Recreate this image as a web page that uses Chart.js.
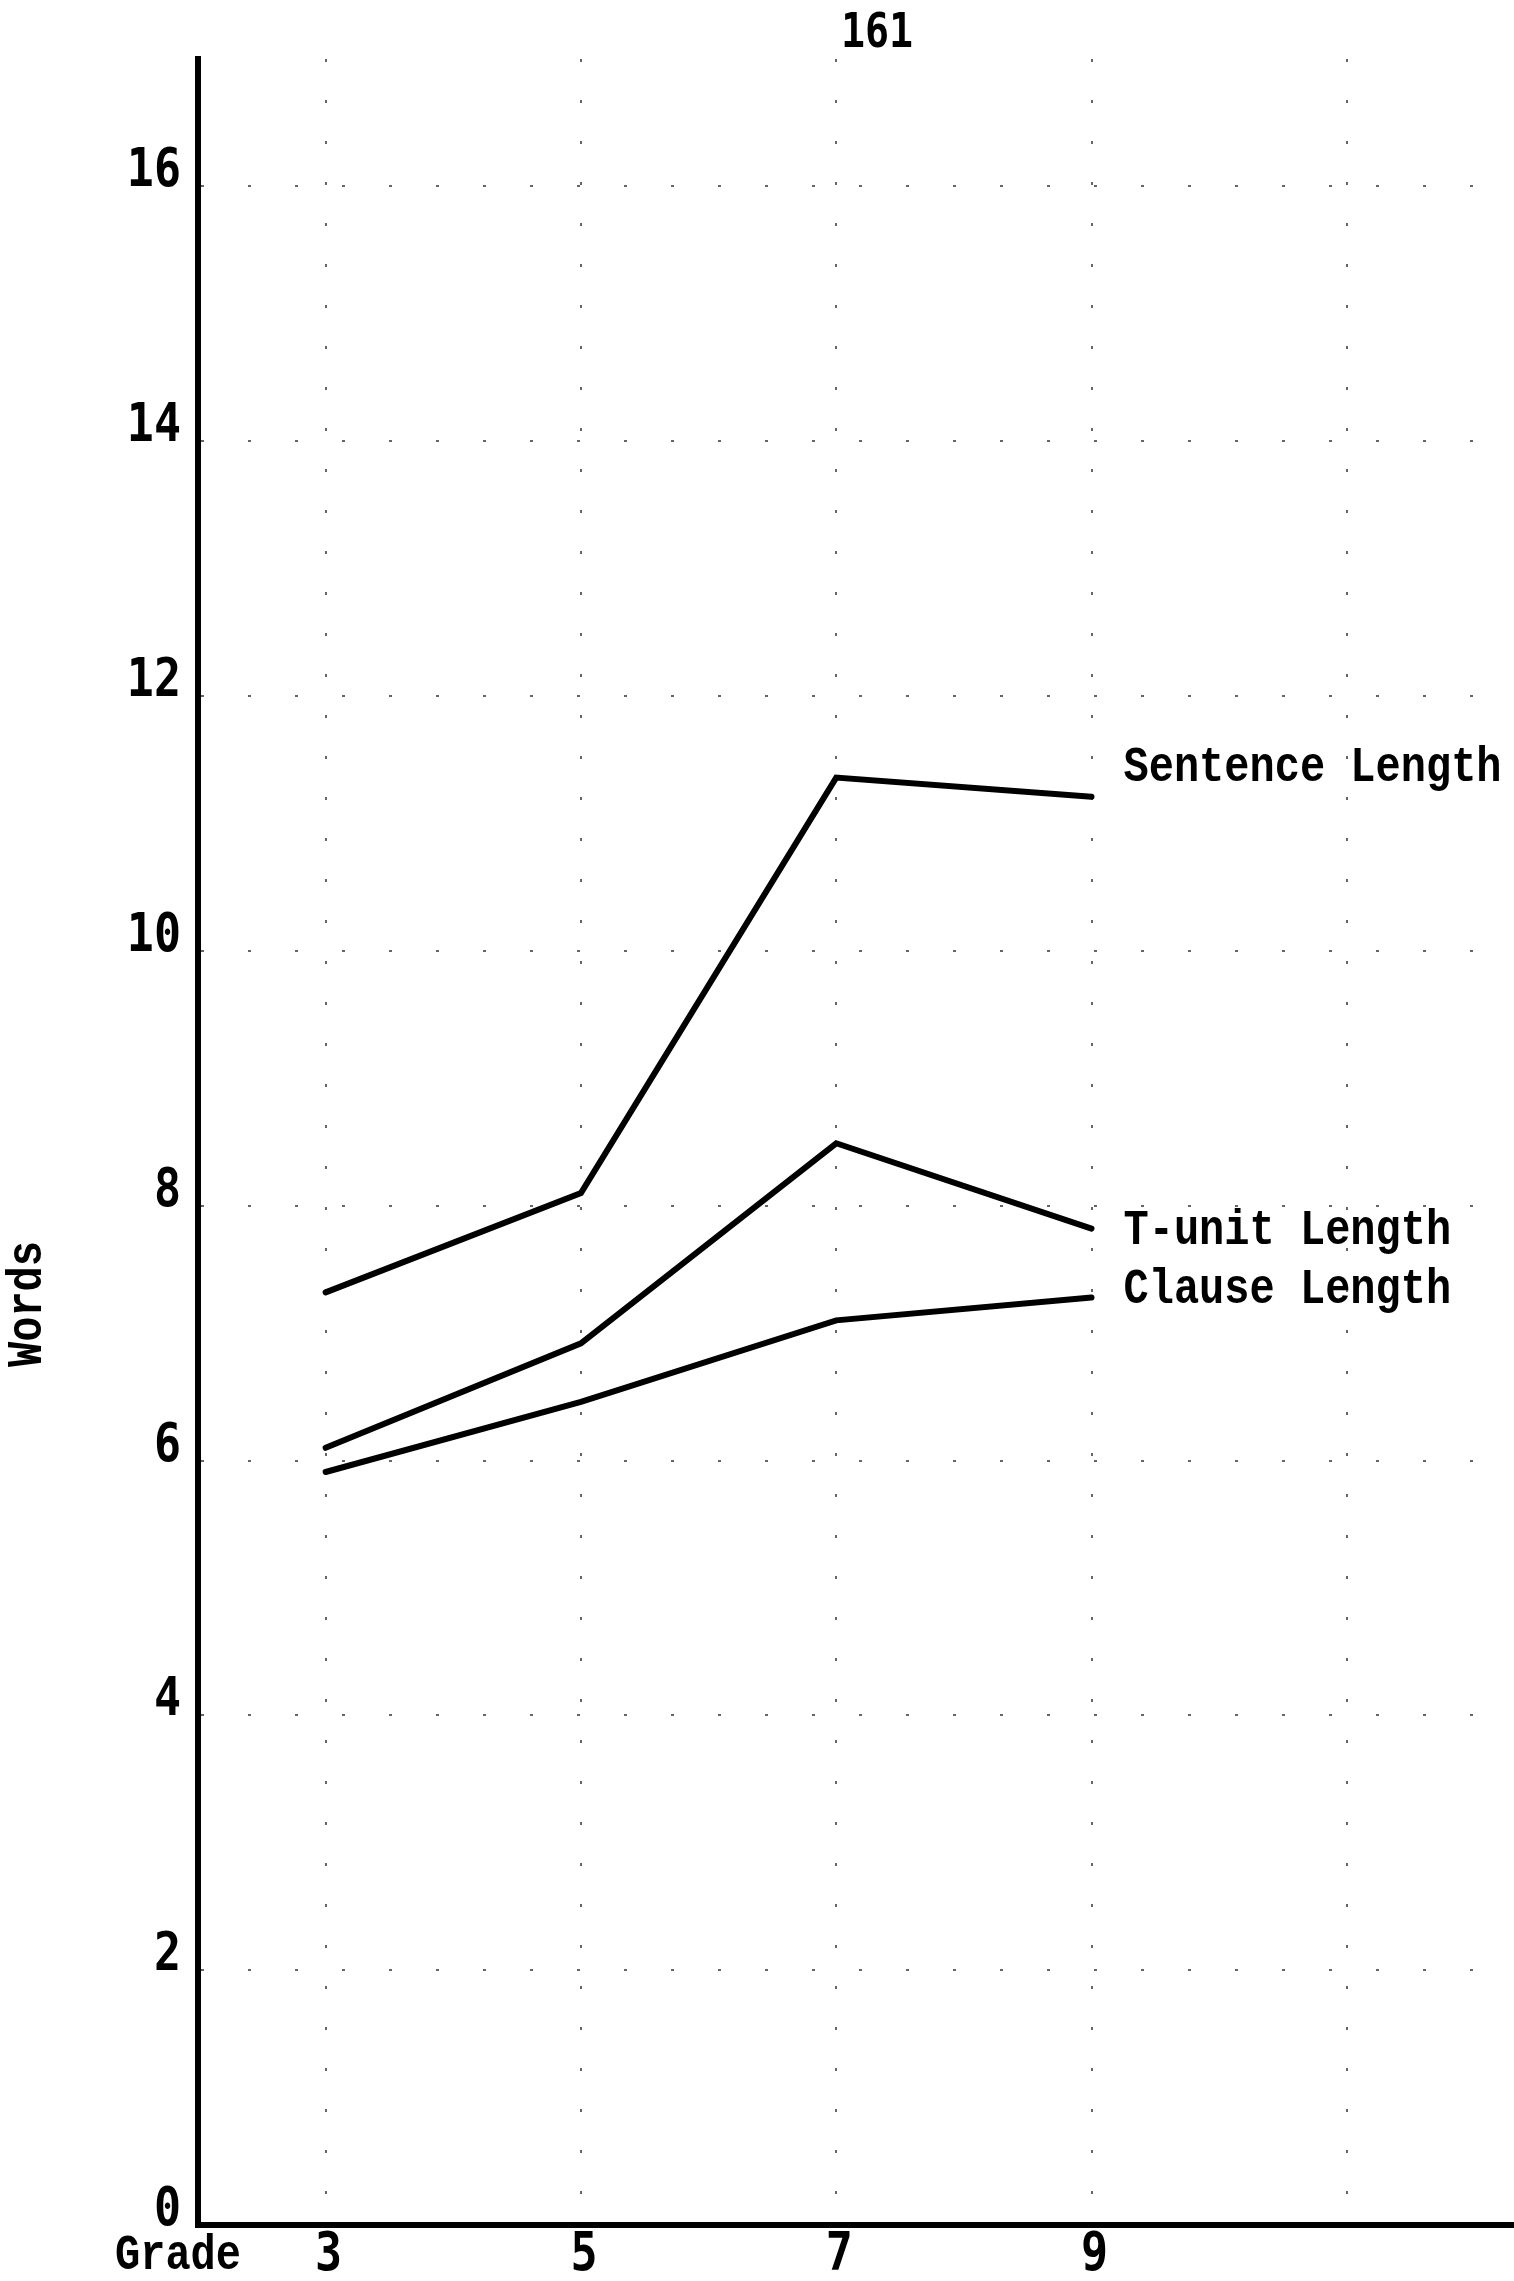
<!DOCTYPE html>
<html>
<head>
<meta charset="utf-8">
<script src="https://cdn.jsdelivr.net/npm/chart.js@4.4.1/dist/chart.umd.min.js"></script>
<style>
  html, body { margin: 0; padding: 0; background: #fff; }
  canvas { display: block; }
</style>
</head>
<body>
<canvas id="wordsChart" width="1514" height="2281"></canvas>
<script>
// values (words per unit, by grade)
const grades = [3, 5, 7, 9];
const sentenceLength = [7.32, 8.1, 11.36, 11.21];
const tunitLength = [6.1, 6.92, 8.49, 7.82];
const clauseLength = [5.91, 6.46, 7.1, 7.28];
const seriesNames = ['Sentence Length', 'T-unit Length', 'Clause Length'];

const wordTicks = [0, 2, 4, 6, 8, 10, 12, 14, 16];
const gradeTicks = [3, 5, 7, 9];
const gridGrades = [3, 5, 7, 9, 11];

const typeFont = 'bold 42px "Liberation Mono", "Courier New", Courier, "Nimbus Mono PS", "FreeMono", monospace';
const digitFont = 'bold 45px "DejaVu Sans Mono", "Liberation Mono", monospace';

function toPoints(values) {
    return grades.map((g, i) => ({ x: g, y: values[i] }));
}

// draw text, optionally stretched vertically / rotated (typewriter look)
function drawText(ctx, text, x, y, font, align, sy, rot) {
    ctx.save();
    ctx.translate(x, y);
    if (rot) ctx.rotate(rot);
    ctx.scale(1, sy || 1);
    ctx.font = font;
    ctx.fillStyle = '#000';
    ctx.textAlign = align;
    ctx.textBaseline = 'middle';
    ctx.fillText(text, 0, 0);
    ctx.restore();
}

const labelPlugin = {
    id: 'typedLabels',
    afterDraw(chart) {
        const ctx = chart.ctx;
        const xs = chart.scales.x;
        const ys = chart.scales.y;

        // y tick labels (typed a little above the rule)
        wordTicks.forEach(v => {
            drawText(ctx, String(v), 181, ys.getPixelForValue(v) - 14, digitFont, 'right', 1.2);
        });
        // grade labels
        gradeTicks.forEach(g => {
            drawText(ctx, String(g), xs.getPixelForValue(g) + 3, 2256, digitFont, 'center', 1.2);
        });
        drawText(ctx, 'Grade', 115, 2256, typeFont, 'left', 1.2);

        // axis title
        drawText(ctx, 'Words', 28, 1304, typeFont, 'center', 1.2, -Math.PI / 2);

        // page number
        drawText(ctx, '161', 877, 35, 'bold 40px "DejaVu Sans Mono", monospace', 'center', 1.2);

        // series labels at the line ends
        const lastX = xs.getPixelForValue(grades[grades.length - 1]) + 32;
        const ends = [sentenceLength, tunitLength, clauseLength];
        const offsets = [-28, 3, -7];
        ends.forEach((arr, i) => {
            const y = ys.getPixelForValue(arr[arr.length - 1]) + offsets[i];
            drawText(ctx, seriesNames[i], lastX, y, typeFont, 'left', 1.2);
        });
    }
};

const lineStyle = {
    borderColor: '#000',
    borderWidth: 6,
    pointRadius: 0,
    tension: 0,
    fill: false,
    borderCapStyle: 'round',
    borderJoinStyle: 'miter'
};

const ctx = document.getElementById('wordsChart').getContext('2d');
const wordsChart = new Chart(ctx, {
    type: 'line',
    data: {
        datasets: [
            Object.assign({ label: seriesNames[0], data: toPoints(sentenceLength) }, lineStyle),
            Object.assign({ label: seriesNames[1], data: toPoints(tunitLength) }, lineStyle),
            Object.assign({ label: seriesNames[2], data: toPoints(clauseLength) }, lineStyle)
        ]
    },
    options: {
        responsive: false,
        animation: false,
        layout: { padding: { left: 198, right: 0, top: 59, bottom: 56 } },
        plugins: {
            legend: { display: false },
            tooltip: { enabled: false }
        },
        scales: {
            x: {
                type: 'linear',
                min: 2,
                max: 12.31,
                afterBuildTicks: s => { s.ticks = gridGrades.map(v => ({ value: v })); },
                ticks: { display: false },
                grid: { color: '#666', lineWidth: 2, drawTicks: false },
                border: { display: true, color: '#000', width: 6, dash: [3, 38] }
            },
            y: {
                type: 'linear',
                min: 0,
                max: 17,
                afterBuildTicks: s => { s.ticks = wordTicks.map(v => ({ value: v })); },
                ticks: { display: false },
                grid: { color: '#666', lineWidth: 2, drawTicks: false },
                border: { display: true, color: '#000', width: 6, dash: [3, 44] }
            }
        }
    },
    plugins: [labelPlugin]
});
</script>
</body>
</html>
